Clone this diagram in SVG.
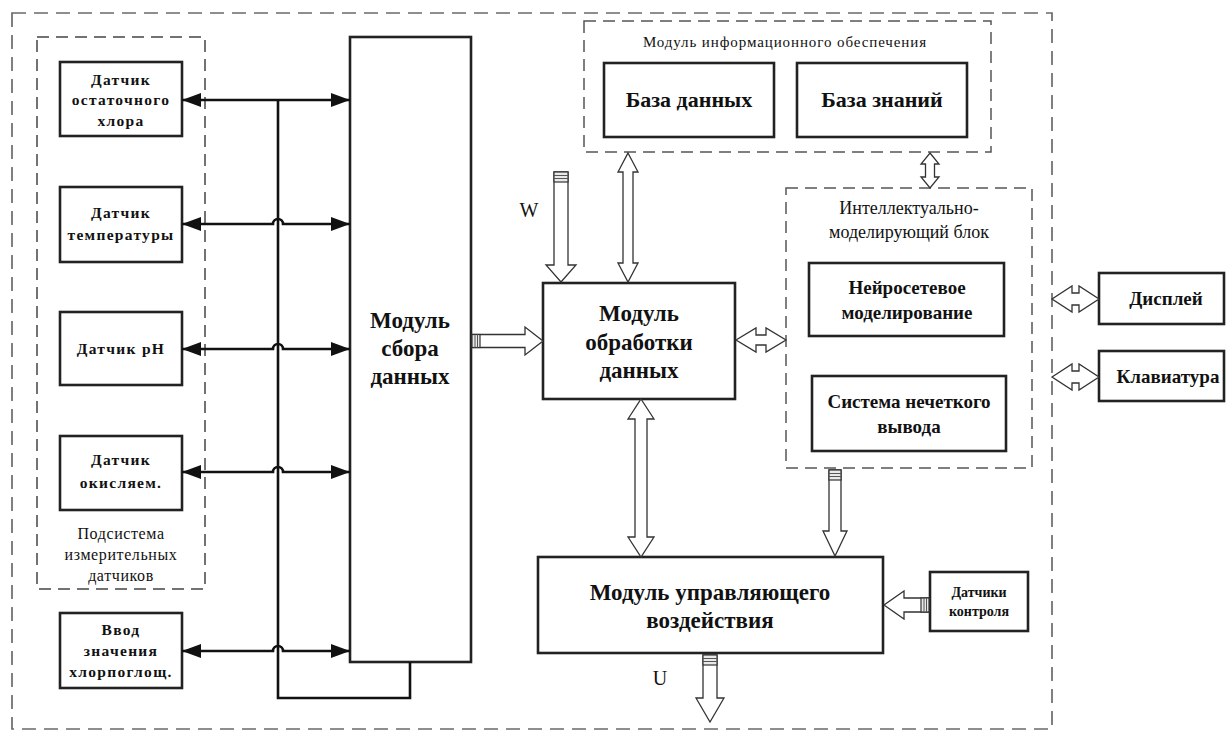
<svg xmlns="http://www.w3.org/2000/svg" width="1227" height="731" viewBox="0 0 1227 731">
<style>
.box{fill:#fff;stroke:#222;stroke-width:2.6}
.dash-outer{fill:none;stroke:#6a6a6a;stroke-width:1.7;stroke-dasharray:14 8}
.dash{fill:none;stroke:#555;stroke-width:1.5;stroke-dasharray:12 7}
.line{fill:none;stroke:#111;stroke-width:2.6}
.harrow{fill:#fff;stroke:#333;stroke-width:1.3;stroke-linejoin:miter}
.cap{fill:#e8e8e8;stroke:#333;stroke-width:1.2}
.capl{stroke:#555;stroke-width:1}
text{font-family:"Liberation Serif","Times New Roman",serif;fill:#111;text-anchor:middle}
.sb{font-size:15.5px;font-weight:bold;letter-spacing:1.3px}
.big{font-size:23px;font-weight:bold}
.mid{font-size:19px;font-weight:bold}
.lbl{font-size:16px;letter-spacing:0.6px}
.lbl2{font-size:18px}
.var{font-size:20px}
</style>
<defs>
<marker id="ah" viewBox="0 0 19 14" refX="19" refY="7" markerWidth="19" markerHeight="14" markerUnits="userSpaceOnUse" orient="auto-start-reverse">
<path d="M0,0 L19,7 L0,14 z" fill="#111"/>
</marker>
</defs>

<rect class="dash-outer" x="12" y="13" width="1040" height="716"/>

<g id="subsystem">
<rect class="dash" x="37" y="37" width="168" height="552" style="stroke:#444"/>
<text class="lbl" x="121" y="539">Подсистема</text>
<text class="lbl" x="121" y="560">измерительных</text>
<text class="lbl" x="121" y="581">датчиков</text>
</g>

<g id="sensor-chlorine">
<rect class="box" x="60" y="62" width="122" height="74"/>
<text class="sb" x="121" y="85">Датчик</text>
<text class="sb" x="121" y="105">остаточного</text>
<text class="sb" x="121" y="126">хлора</text>
</g>
<g id="sensor-temp">
<rect class="box" x="60" y="187" width="122" height="75"/>
<text class="sb" x="121" y="218">Датчик</text>
<text class="sb" x="121" y="240">температуры</text>
</g>
<g id="sensor-ph">
<rect class="box" x="60" y="312" width="122" height="73"/>
<text class="sb" x="121" y="354">Датчик pH</text>
</g>
<g id="sensor-ox">
<rect class="box" x="60" y="436" width="122" height="74"/>
<text class="sb" x="121" y="465">Датчик</text>
<text class="sb" x="121" y="488">окисляем.</text>
</g>
<g id="input-chlor">
<rect class="box" x="60" y="613" width="122" height="75"/>
<text class="sb" x="121" y="635">Ввод</text>
<text class="sb" x="121" y="656">значения</text>
<text class="sb" x="121" y="677">хлорпоглощ.</text>
</g>

<g id="collect">
<rect class="box" x="350" y="37" width="121" height="625"/>
<text class="big" x="410" y="328">Модуль</text>
<text class="big" x="410" y="356">сбора</text>
<text class="big" x="410" y="384">данных</text>
</g>

<g id="info-module">
<rect class="dash" x="584" y="21" width="407" height="131"/>
<text style="font-size:15px;letter-spacing:0.9px" x="785" y="47">Модуль информационного обеспечения</text>
</g>
<g id="database">
<rect class="box" x="604" y="63" width="170" height="74"/>
<text style="font-size:22px;font-weight:bold" x="689" y="107">База данных</text>
</g>
<g id="knowledge">
<rect class="box" x="797" y="63" width="170" height="74"/>
<text style="font-size:22px;font-weight:bold" x="882" y="107">База знаний</text>
</g>

<g id="processing">
<rect class="box" x="543" y="283" width="192" height="116"/>
<text class="big" x="639" y="321">Модуль</text>
<text class="big" x="639" y="350">обработки</text>
<text class="big" x="639" y="378">данных</text>
</g>

<g id="intel-block">
<rect class="dash" x="786" y="188" width="246" height="280"/>
<text class="lbl2" x="909" y="214">Интеллектуально-</text>
<text class="lbl2" x="909" y="238">моделирующий блок</text>
</g>
<g id="neural">
<rect class="box" x="809" y="263" width="195" height="73"/>
<text class="mid" x="907" y="294">Нейросетевое</text>
<text class="mid" x="907" y="319">моделирование</text>
</g>
<g id="fuzzy">
<rect class="box" x="812" y="376" width="194" height="75"/>
<text class="mid" x="909" y="408">Система нечеткого</text>
<text class="mid" x="909" y="433">вывода</text>
</g>

<g id="display">
<rect class="box" x="1099" y="273" width="125" height="51"/>
<text class="mid" x="1166" y="305">Дисплей</text>
</g>
<g id="keyboard">
<rect class="box" x="1099" y="351" width="125" height="50"/>
<text class="mid" x="1168" y="383">Клавиатура</text>
</g>

<g id="control">
<rect class="box" x="538" y="557" width="345" height="96"/>
<text class="big" x="710" y="600">Модуль управляющего</text>
<text class="big" x="710" y="628">воздействия</text>
</g>
<g id="control-sensors">
<rect class="box" x="930" y="572" width="98" height="59"/>
<text style="font-size:14px;font-weight:bold" x="979" y="597">Датчики</text>
<text style="font-size:14px;font-weight:bold" x="979" y="616">контроля</text>
</g>

<g id="labels">
<text class="var" x="529" y="217">W</text>
<text class="var" x="660" y="685">U</text>
</g>

<g id="connectors">
<path class="line" d="M278 100 V698 H410 V662"/>
<path class="line" marker-start="url(#ah)" marker-end="url(#ah)" d="M182 100 H350"/>
<path class="line" marker-start="url(#ah)" marker-end="url(#ah)" d="M182 224 H273 a5 5 0 0 1 10 0 H350"/>
<path class="line" marker-start="url(#ah)" marker-end="url(#ah)" d="M182 349 H273 a5 5 0 0 1 10 0 H350"/>
<path class="line" marker-start="url(#ah)" marker-end="url(#ah)" d="M182 472 H273 a5 5 0 0 1 10 0 H350"/>
<path class="line" marker-start="url(#ah)" marker-end="url(#ah)" d="M182 651 H273 a5 5 0 0 1 10 0 H350"/>

<polygon class="harrow" points="554,172 568,172 568,265 576,265 561,282 546,265 554,265"/>
<rect class="cap" x="554" y="172" width="14" height="10"/>
<line class="capl" x1="554" y1="175.5" x2="568" y2="175.5"/><line class="capl" x1="554" y1="178.5" x2="568" y2="178.5"/>

<polygon class="harrow" points="628,153 638,172 633,172 633,263 638,263 628,282 618,263 623,263 623,172 618,172"/>

<polygon class="harrow" points="930,153 939,164 934.5,164 934.5,177 939,177 930,188 921,177 925.5,177 925.5,164 921,164"/>

<polygon class="harrow" points="472,334.5 525,334.5 525,327 543,341 525,355 525,347.5 472,347.5"/>
<rect class="cap" x="472" y="334.5" width="8" height="13"/>
<line class="capl" x1="475" y1="334.5" x2="475" y2="347.5"/><line class="capl" x1="477.5" y1="334.5" x2="477.5" y2="347.5"/>

<polygon class="harrow" points="736,340 756,328 756,335 766,335 766,328 786,340 766,352 766,345 756,345 756,352"/>

<polygon class="harrow" points="641,399 654,419 647,419 647,537 654,537 641,557 628,537 635,537 635,419 628,419"/>

<polygon class="harrow" points="829,470 841,470 841,531 847,531 835,556 823,531 829,531"/>
<rect class="cap" x="829" y="470" width="12" height="10"/>
<line class="capl" x1="829" y1="473.5" x2="841" y2="473.5"/><line class="capl" x1="829" y1="476.5" x2="841" y2="476.5"/>

<polygon class="harrow" points="929,598 904,598 904,591 884,605 904,619 904,612 929,612"/>
<rect class="cap" x="921" y="598" width="8" height="14"/>
<line class="capl" x1="924" y1="598" x2="924" y2="612"/><line class="capl" x1="926.5" y1="598" x2="926.5" y2="612"/>

<polygon class="harrow" points="703,655 717,655 717,698 724,698 710,722 696,698 703,698"/>
<rect class="cap" x="703" y="655" width="14" height="10"/>
<line class="capl" x1="703" y1="658.5" x2="717" y2="658.5"/><line class="capl" x1="703" y1="661.5" x2="717" y2="661.5"/>

<polygon class="harrow" points="1052,299 1072,286 1072,293 1079,293 1079,286 1099,299 1079,312 1079,305 1072,305 1072,312"/>
<polygon class="harrow" points="1052,377 1072,364 1072,371 1079,371 1079,364 1099,377 1079,390 1079,383 1072,383 1072,390"/>
</g>
</svg>
